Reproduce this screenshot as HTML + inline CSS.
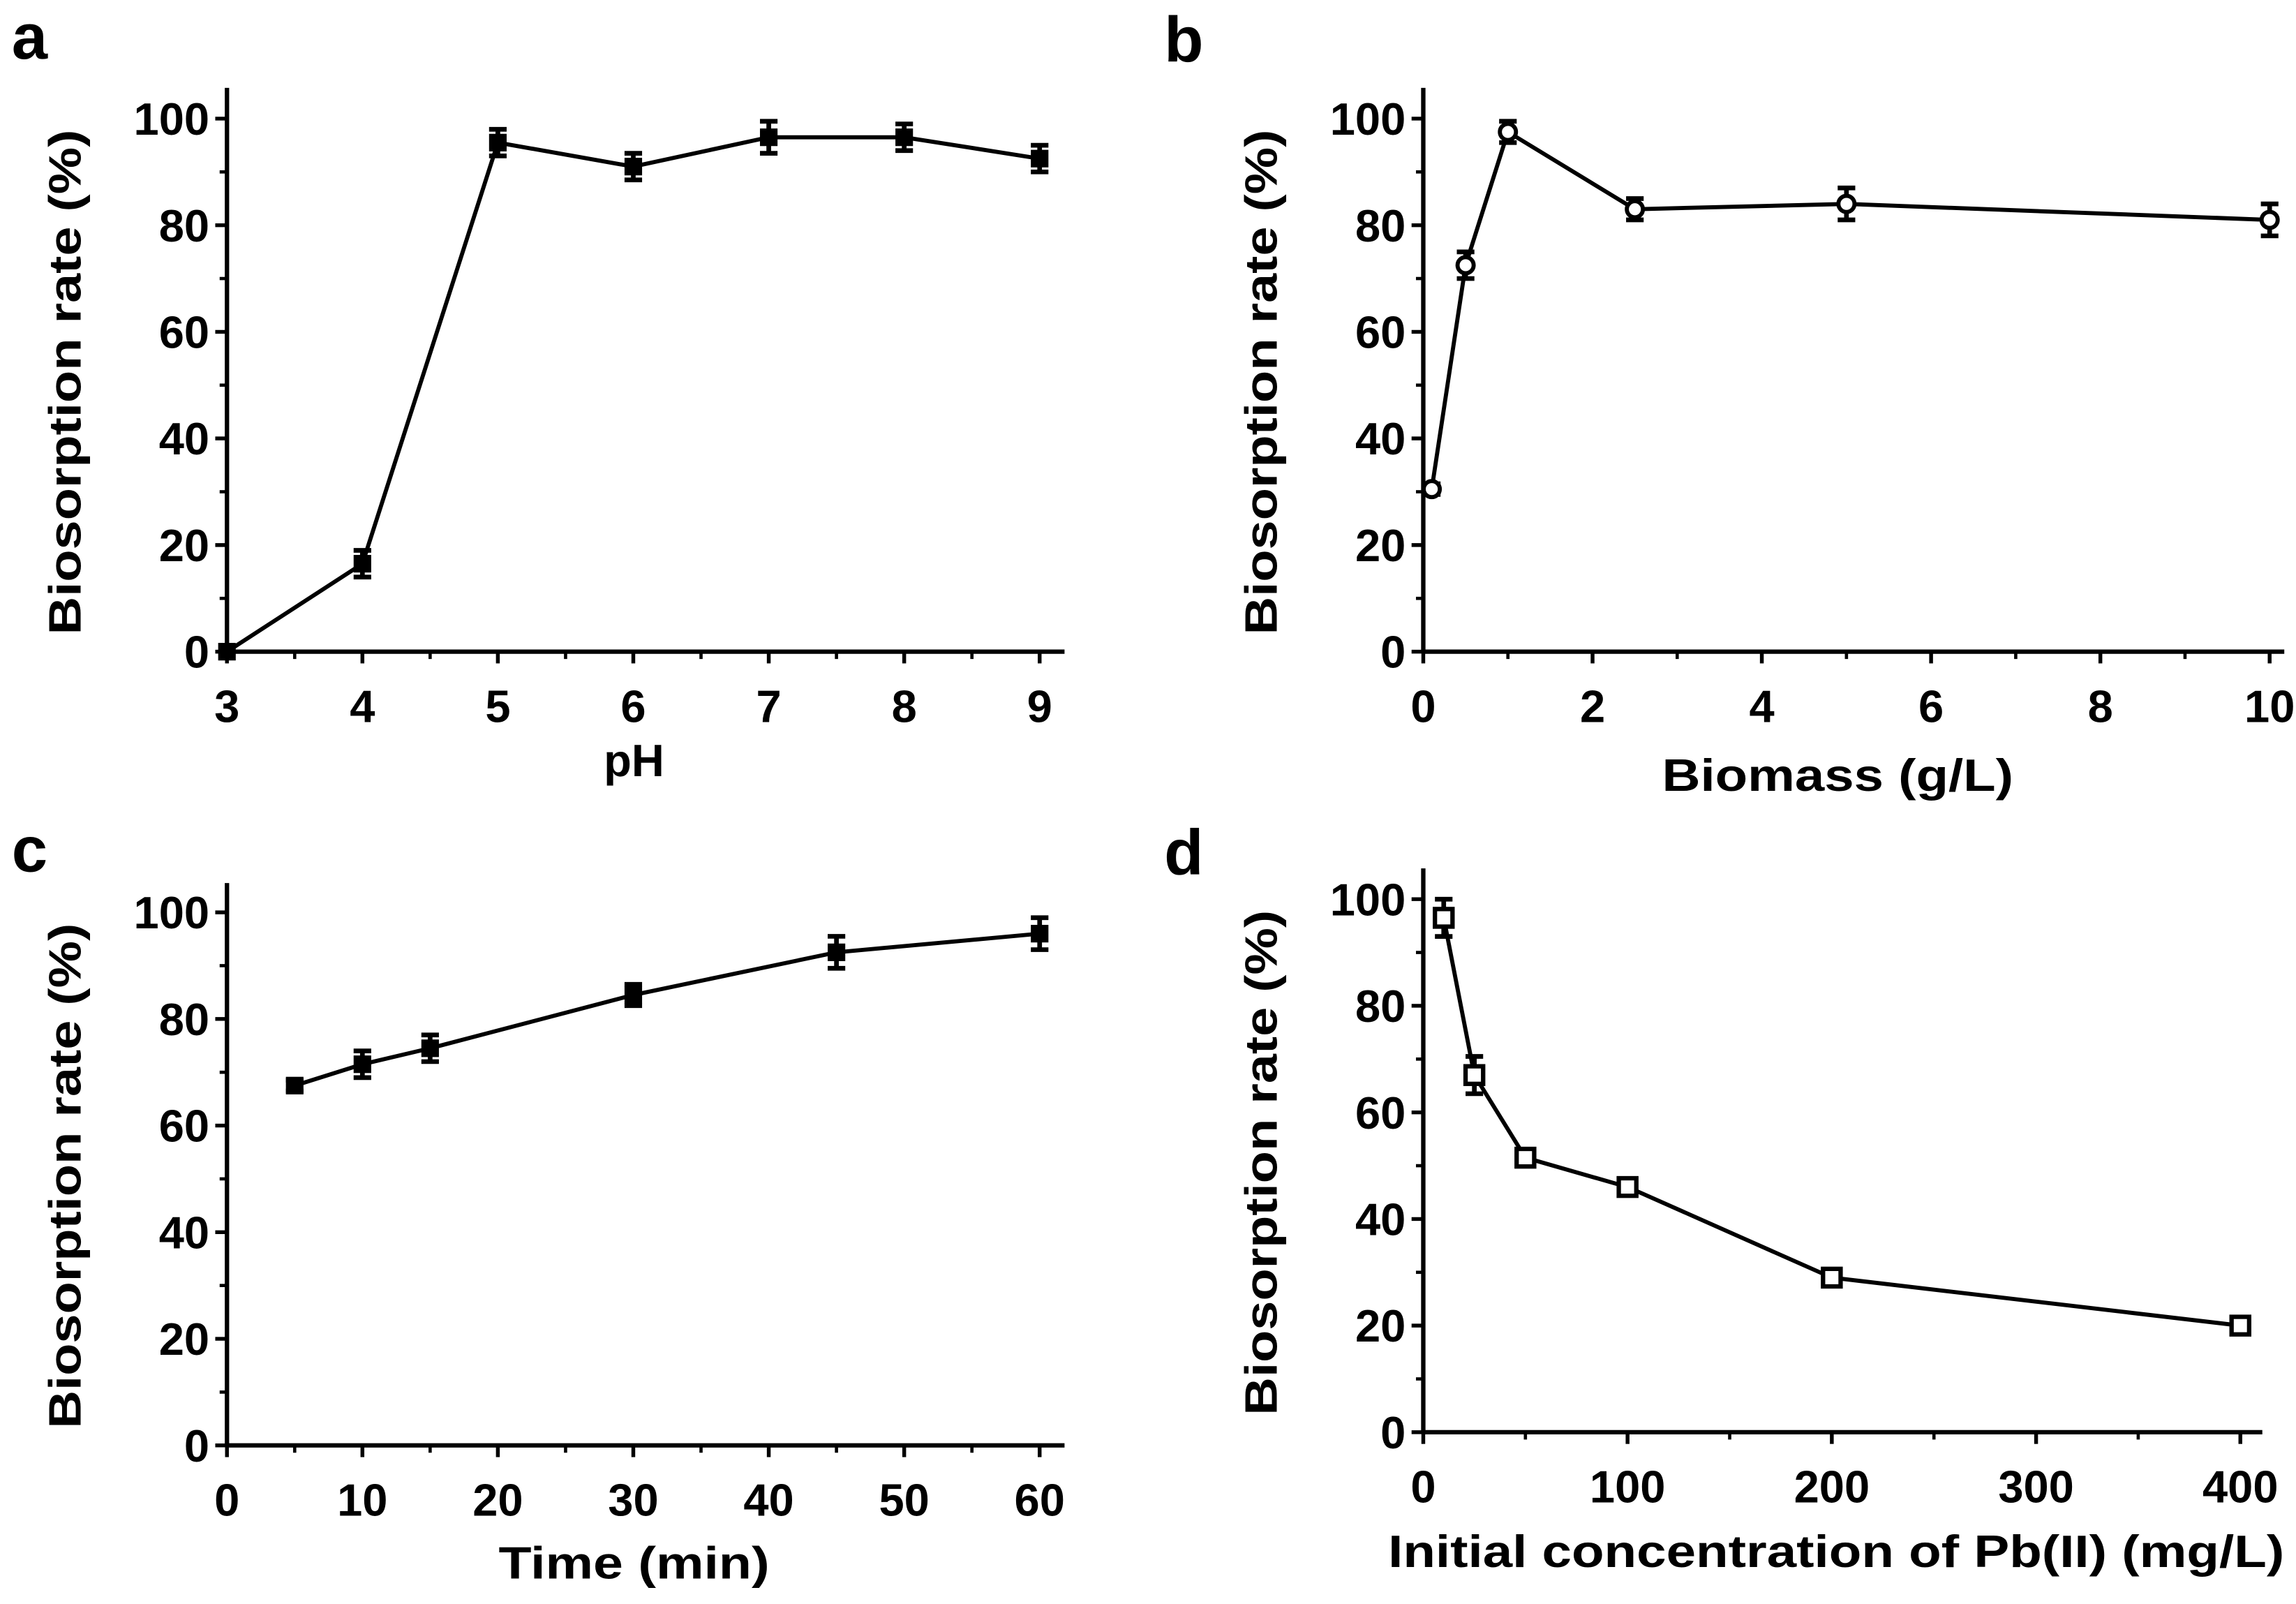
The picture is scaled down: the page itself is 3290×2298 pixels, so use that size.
<!DOCTYPE html>
<html><head><meta charset="utf-8"><style>
html,body{margin:0;padding:0;background:#fff}
svg{display:block}
text{font-family:"Liberation Sans Narrow","Liberation Sans",sans-serif;font-weight:bold;fill:#000}
</style></head><body>
<svg id="fig" width="3290" height="2298" viewBox="0 0 1568 1095.3" preserveAspectRatio="none" xmlns="http://www.w3.org/2000/svg"></svg>
<script>
// Panel a: pH
const aX = [3,4,5,6,7,8,9];
const aY = [0,16.5,95.5,91,96.5,96.5,92.5];
const aE = [0,2.5,2.5,2.5,3,2.5,2.5];
const aXTicks = [3,4,5,6,7,8,9];
// Panel b: biomass
const bX = [0.1,0.5,1,2.5,5,10];
const bY = [30.5,72.5,97.5,83,84,81];
const bE = [1,2.5,2,2,3,3];
const bXTicks = [0,2,4,6,8,10];
// Panel c: time
const cX = [5,10,15,30,45,60];
const cY = [67.5,71.5,74.5,84.5,92.5,96];
const cE = [1,2.5,2.5,2,3,3];
const cXTicks = [0,10,20,30,40,50,60];
// Panel d: concentration
const dX = [10,25,50,100,200,400];
const dY = [96.5,67,51.5,46,29,20];
const dE = [3.5,3.5,1.5,1.5,1,1];
const dXTicks = [0,100,200,300,400];
const yTicks = [0,20,40,60,80,100];

const NS = "http://www.w3.org/2000/svg";
const svg = document.getElementById('fig');
function mk(tag, attrs, parent){
  const e = document.createElementNS(NS, tag);
  for (const k in attrs) e.setAttribute(k, attrs[k]);
  (parent||svg).appendChild(e);
  return e;
}
function txt(parent, x, y, s, size, anchor, rot, len){
  const a = {x:0, y:0, 'font-size':size, 'text-anchor':anchor,
    transform:`translate(${x},${y})${rot?' rotate(-90)':''}`};
  if (len) { a.textLength = len; a.lengthAdjust = 'spacingAndGlyphs'; }
  const t = mk('text', a, parent);
  t.textContent = s;
  return t;
}
function panel(cfg){
  const g = mk('g', {});
  
  
  const sx = v => cfg.x0 + (v - cfg.xmin) / (cfg.xmax - cfg.xmin) * (cfg.x1 - cfg.x0);
  const sy = v => cfg.y0 - v / 100 * (cfg.y0 - cfg.y100);
  const ya = mk('line', {x1:cfg.x0, y1:cfg.y0, x2:cfg.x0, y2:cfg.ytop, stroke:'#000','stroke-width':3}, g);
  
  
  const xa = mk('line', {x1:cfg.x0, y1:cfg.y0, x2:cfg.xend, y2:cfg.y0, stroke:'#000','stroke-width':3}, g);
  
  
  yTicks.forEach(t => {
    const y = sy(t);
    mk('line', {x1:cfg.x0-8, y1:y, x2:cfg.x0, y2:y, stroke:'#000','stroke-width':2.6}, g);
    const lb = txt(g, cfg.x0-12, y+11, String(t), 31, 'end');
    
    
    if (t < 100) { const ym = sy(t+10); mk('line', {x1:cfg.x0-5, y1:ym, x2:cfg.x0, y2:ym, stroke:'#000','stroke-width':2.2}, g); }
  });
  cfg.xt.forEach((t,i) => {
    const x = sx(t);
    mk('line', {x1:x, y1:cfg.y0, x2:x, y2:cfg.y0+8, stroke:'#000','stroke-width':2.6}, g);
    const lb = txt(g, x, cfg.y0+48, String(t), 31, 'middle');
    
    
    if (i < cfg.xt.length-1) { const xm = sx((t + cfg.xt[i+1])/2); mk('line', {x1:xm, y1:cfg.y0, x2:xm, y2:cfg.y0+5, stroke:'#000','stroke-width':2.2}, g); }
  });
  const xt = txt(g, cfg.xtx, cfg.xty, cfg.xlabel, 31, 'middle', false, cfg.xlen);
  
  
  const ycy = (cfg.y0 + cfg.y100)/2 - 2;
  const yt = txt(g, cfg.x0-100, ycy, 'Biosorption rate (%)', 31, 'middle', true, 345);
  
  
  const pl = mk('text', {x:cfg.lx, y:cfg.ly, 'font-size':44}, g);
  pl.textContent = cfg.id;
  
  
  const pts = cfg.X.map((v,i) => sx(v)+','+sy(cfg.Y[i])).join(' ');
  const ln = mk('polyline', {points:pts, fill:'none', stroke:'#000','stroke-width':2.8}, g);
  
  
  cfg.X.forEach((v,i) => {
    const x = sx(v), y = sy(cfg.Y[i]);
    const yt2 = sy(cfg.Y[i]+cfg.E[i]), yb = sy(cfg.Y[i]-cfg.E[i]);
    if (cfg.E[i] > 0) {
      const eb = mk('path', {d:`M${x},${yt2}V${yb}M${x-6},${yt2}H${x+6}M${x-6},${yb}H${x+6}`, stroke:'#000','stroke-width':3.2, fill:'none'}, g);
      
      
    }
    let m;
    if (cfg.marker === 'circle') m = mk('circle', {cx:x, cy:y, r:5.5, fill:'#fff', stroke:'#000','stroke-width':2.8}, g);
    else if (cfg.marker === 'osq') m = mk('rect', {x:x-6, y:y-6, width:12, height:12, fill:'#fff', stroke:'#000','stroke-width':3}, g);
    else m = mk('rect', {x:x-6, y:y-6, width:12, height:12, fill:'#000'}, g);
    
    
  });
}
panel({id:'a', X:aX, Y:aY, E:aE, xt:aXTicks, xmin:3, xmax:9, x0:155, x1:710, xend:727, y0:445, y100:81, ytop:60, marker:'fill', xlabel:'pH', xtx:433, xty:530, lx:8, ly:40});
panel({id:'b', X:bX, Y:bY, E:bE, xt:bXTicks, xmin:0, xmax:10, x0:972, x1:1550, xend:1560, y0:445, y100:81, ytop:60, marker:'circle', xlabel:'Biomass (g/L)', xtx:1255, xty:540, lx:795, ly:42, xlen:240});
panel({id:'c', X:cX, Y:cY, E:cE, xt:cXTicks, xmin:0, xmax:60, x0:155, x1:710, xend:727, y0:987, y100:623, ytop:603, marker:'fill', xlabel:'Time (min)', xtx:433, xty:1078, lx:8, ly:595, xlen:185});
panel({id:'d', X:dX, Y:dY, E:dE, xt:dXTicks, xmin:0, xmax:400, x0:972, x1:1530, xend:1545, y0:978, y100:614, ytop:593, marker:'osq', xlabel:'Initial concentration of Pb(II) (mg/L)', xtx:1254, xty:1070, lx:795, ly:597, xlen:612});
</script>
</body></html>
